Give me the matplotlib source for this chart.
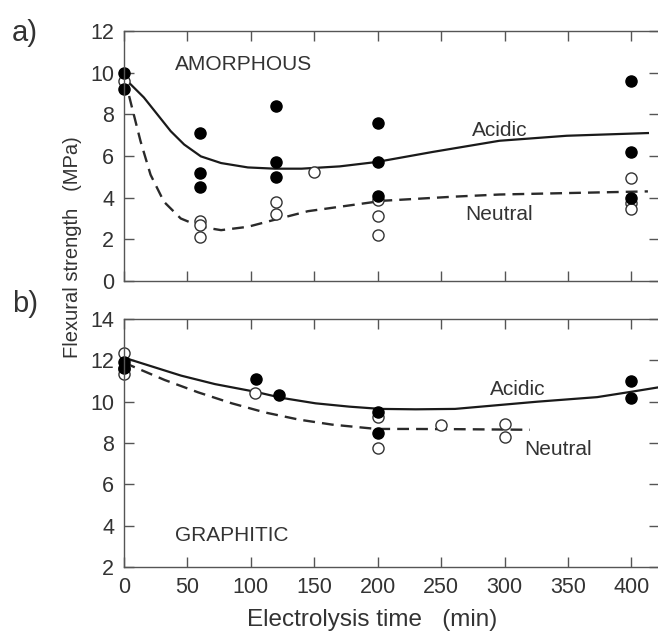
import numpy as np
import matplotlib
matplotlib.use('Agg')
import matplotlib.pyplot as plt

plt.rcParams['font.family'] = ['Liberation Sans', 'DejaVu Sans']

# a) amorphous : acidic (filled) / neutral (open)
am_acid_x = [0, 0, 60, 60, 60, 120, 120, 120, 200, 200, 200, 400, 400, 400]
am_acid_y = [10.0, 9.2, 7.1, 5.2, 4.5, 8.4, 5.7, 5.0, 7.6, 5.7, 4.1, 9.6, 6.2, 4.0]
am_neut_x = [0, 60, 60, 60, 120, 120, 150, 200, 200, 200, 400, 400, 400]
am_neut_y = [9.6, 2.9, 2.7, 2.1, 3.8, 3.2, 5.25, 3.9, 3.1, 2.2, 4.95, 3.75, 3.45]
am_acid_cx = [0, 3.7, 15.6, 26.2, 36.8, 47.4, 60.6, 76.5, 97.6, 118.8, 140, 170, 199, 243, 296, 349, 413]
am_acid_cy = [9.75, 9.53, 8.81, 8.0, 7.19, 6.55, 5.98, 5.66, 5.45, 5.39, 5.39, 5.5, 5.71, 6.19, 6.73, 6.97, 7.1]
am_neut_cx = [0, 1, 6.3, 13, 20.9, 31.5, 44.7, 60.6, 76.5, 97.6, 118.8, 145, 204, 261, 296, 350, 413]
am_neut_cy = [9.75, 9.61, 8.32, 6.71, 5.1, 3.8, 3.0, 2.6, 2.44, 2.6, 2.94, 3.35, 3.85, 4.05, 4.15, 4.22, 4.3]

# b) graphitic
gr_acid_x = [0, 0, 104, 122, 200, 200, 400, 400]
gr_acid_y = [11.9, 11.65, 11.1, 10.3, 9.5, 8.5, 11.0, 10.2]
gr_neut_x = [0, 0, 0, 103, 200, 200, 250, 300, 300]
gr_neut_y = [12.35, 11.6, 11.35, 10.4, 9.25, 7.75, 8.85, 8.9, 8.3]
gr_acid_cx = [0, 5.6, 45, 71.7, 103.4, 124.6, 151, 177.5, 202, 230, 261, 326, 373, 400, 422]
gr_acid_cy = [12.15, 12.02, 11.26, 10.85, 10.48, 10.18, 9.92, 9.76, 9.65, 9.63, 9.65, 10.0, 10.22, 10.48, 10.7]
gr_neut_cx = [0, 5.6, 32, 58.5, 85, 111, 138, 164, 199, 225, 261, 320]
gr_neut_cy = [11.9, 11.74, 11.05, 10.45, 9.92, 9.48, 9.13, 8.89, 8.68, 8.68, 8.67, 8.64]

xticks = [0, 50, 100, 150, 200, 250, 300, 350, 400]

ink = '#1a1a1a'
grey = '#555555'
txt = '#333333'

fig = plt.figure(figsize=(6.58, 6.37), dpi=100)
ax1 = fig.add_axes([0.1885, 0.5589, 0.8135, 0.3925])
ax2 = fig.add_axes([0.1885, 0.1099, 0.8135, 0.3893])

def style(ax, ylim, yt, labels):
    ax.set_xlim(0, 422)
    ax.set_ylim(*ylim)
    ax.set_xticks(xticks)
    ax.set_yticks(yt)
    ax.tick_params(direction='in', length=7, width=1, colors=grey,
                   top=True, right=True, labelsize=15.5, labelcolor=txt, pad=7)
    if not labels:
        ax.set_xticklabels([])
    for s in ax.spines.values():
        s.set_color(grey)
        s.set_linewidth(1.0)

# haut : amorphe
ax1.plot(am_acid_cx, am_acid_cy, '-', color=ink, lw=1.6)
ax1.plot(am_neut_cx, am_neut_cy, '--', color='#2a2a2a', lw=1.7, dashes=(5, 3))
ax1.plot(am_neut_x, am_neut_y, 'o', mfc='white', mec='#333333', mew=1.0, ms=8, clip_on=False)
ax1.plot(am_acid_x, am_acid_y, 'o', color='black', ms=8, clip_on=False)
style(ax1, (0, 12), range(0, 13, 2), False)
ax1.text(40, 10.4, 'AMORPHOUS', fontsize=15, color=txt, va='center')
ax1.text(296, 7.2, 'Acidic', fontsize=15, color=txt, ha='center', va='center')
ax1.text(296, 3.2, 'Neutral', fontsize=15, color=txt, ha='center', va='center')

# bas : graphitique
ax2.plot(gr_acid_cx, gr_acid_cy, '-', color=ink, lw=1.6)
ax2.plot(gr_neut_cx, gr_neut_cy, '--', color='#2a2a2a', lw=1.7, dashes=(5, 3))
ax2.plot(gr_neut_x, gr_neut_y, 'o', mfc='white', mec='#333333', mew=1.0, ms=8, clip_on=False)
ax2.plot(gr_acid_x, gr_acid_y, 'o', color='black', ms=8, clip_on=False)
style(ax2, (2, 14), range(2, 15, 2), True)
ax2.text(40, 3.5, 'GRAPHITIC', fontsize=15, color=txt, va='center')
ax2.text(310, 10.6, 'Acidic', fontsize=15, color=txt, ha='center', va='center')
ax2.text(342, 7.7, 'Neutral', fontsize=15, color=txt, ha='center', va='center')

fig.text(0.375, 0.027, 'Electrolysis time   (min)', fontsize=17.5, color=txt,
         ha='left', va='center')
fig.text(0.11, 0.612, 'Flexural strength   (MPa)', rotation=90, fontsize=14.5,
         color=txt, ha='center', va='center')
fig.text(0.018, 0.948, 'a)', fontsize=21, color=txt, va='center')
fig.text(0.018, 0.522, 'b)', fontsize=21, color=txt, va='center')

fig.savefig('out.png', dpi=100)
